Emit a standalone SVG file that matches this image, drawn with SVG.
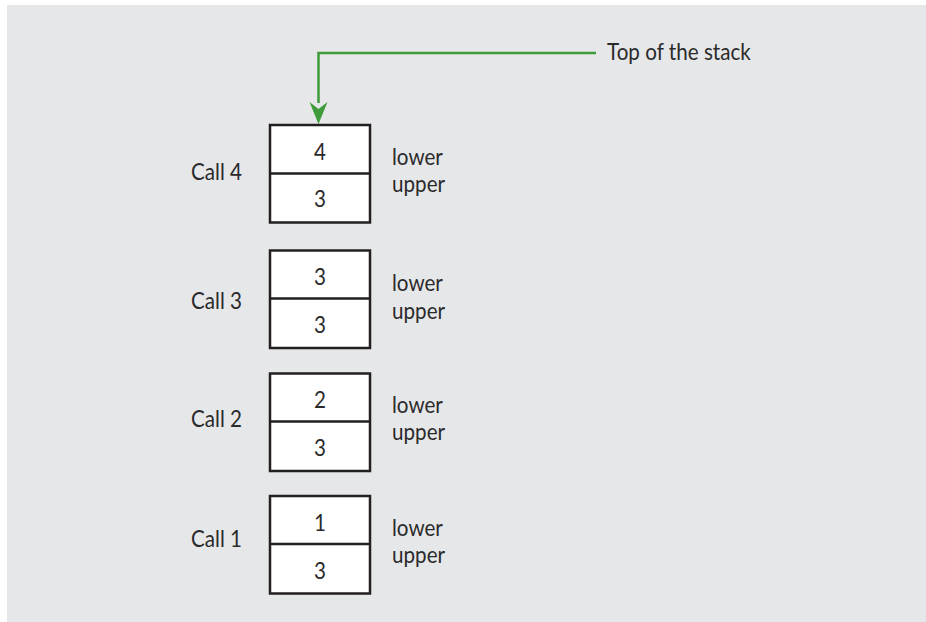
<svg xmlns="http://www.w3.org/2000/svg" width="926" height="622" viewBox="0 0 926 622">
  <style>
    .bg { fill: #e6e7e9; }
    .cell { fill: #ffffff; stroke: #231f20; stroke-width: 2.5; }
    .div { stroke: #231f20; stroke-width: 2.5; }
    text { font-family: Lato, "Open Sans", "Liberation Sans", sans-serif; font-size: 24px; fill: #2b2a2b; }
    .mid { text-anchor: middle; }
    .link { fill: none; stroke: #3f9a3a; stroke-width: 2.5; }
  </style>

  <rect class="bg" x="7" y="5" width="919" height="617"/>

  <!-- pointer to the top frame -->
  <g id="connectors">
    <path class="link" d="M596 53 H318.5 V103"/>
    <path d="M309.5 102 L318.5 109 L327.5 102 L318.5 124 Z" fill="#3f9a3a"/>
  </g>

  <g id="top-label">
    <text transform="translate(607 60) scale(0.86 1)">Top of the stack</text>
  </g>

  <!-- stack frames, one per call; labels use a narrowed face -->
  <g id="call4">
    <rect class="cell" x="270" y="125" width="100" height="97.5"/>
    <line class="div" x1="270" y1="173.5" x2="370" y2="173.5"/>
    <text class="mid" transform="translate(320 160) scale(0.86 1)">4</text>
    <text class="mid" transform="translate(320 207) scale(0.86 1)">3</text>
    <text transform="translate(191 180) scale(0.86 1)">Call 4</text>
    <text transform="translate(392 164.5) scale(0.86 1)">lower</text>
    <text transform="translate(392 192) scale(0.86 1)">upper</text>
  </g>

  <g id="call3">
    <rect class="cell" x="270" y="250.5" width="100" height="97.5"/>
    <line class="div" x1="270" y1="298.5" x2="370" y2="298.5"/>
    <text class="mid" transform="translate(320 285) scale(0.86 1)">3</text>
    <text class="mid" transform="translate(320 333) scale(0.86 1)">3</text>
    <text transform="translate(191 309) scale(0.86 1)">Call 3</text>
    <text transform="translate(392 291) scale(0.86 1)">lower</text>
    <text transform="translate(392 318.5) scale(0.86 1)">upper</text>
  </g>

  <g id="call2">
    <rect class="cell" x="270" y="373.5" width="100" height="97.5"/>
    <line class="div" x1="270" y1="421.5" x2="370" y2="421.5"/>
    <text class="mid" transform="translate(320 408) scale(0.86 1)">2</text>
    <text class="mid" transform="translate(320 456) scale(0.86 1)">3</text>
    <text transform="translate(191 426.5) scale(0.86 1)">Call 2</text>
    <text transform="translate(392 412.5) scale(0.86 1)">lower</text>
    <text transform="translate(392 440) scale(0.86 1)">upper</text>
  </g>

  <g id="call1">
    <rect class="cell" x="270" y="496" width="100" height="97.5"/>
    <line class="div" x1="270" y1="544" x2="370" y2="544"/>
    <text class="mid" transform="translate(320 530.5) scale(0.86 1)">1</text>
    <text class="mid" transform="translate(320 578.5) scale(0.86 1)">3</text>
    <text transform="translate(191 547) scale(0.86 1)">Call 1</text>
    <text transform="translate(392 535.5) scale(0.86 1)">lower</text>
    <text transform="translate(392 563) scale(0.86 1)">upper</text>
  </g>
</svg>
